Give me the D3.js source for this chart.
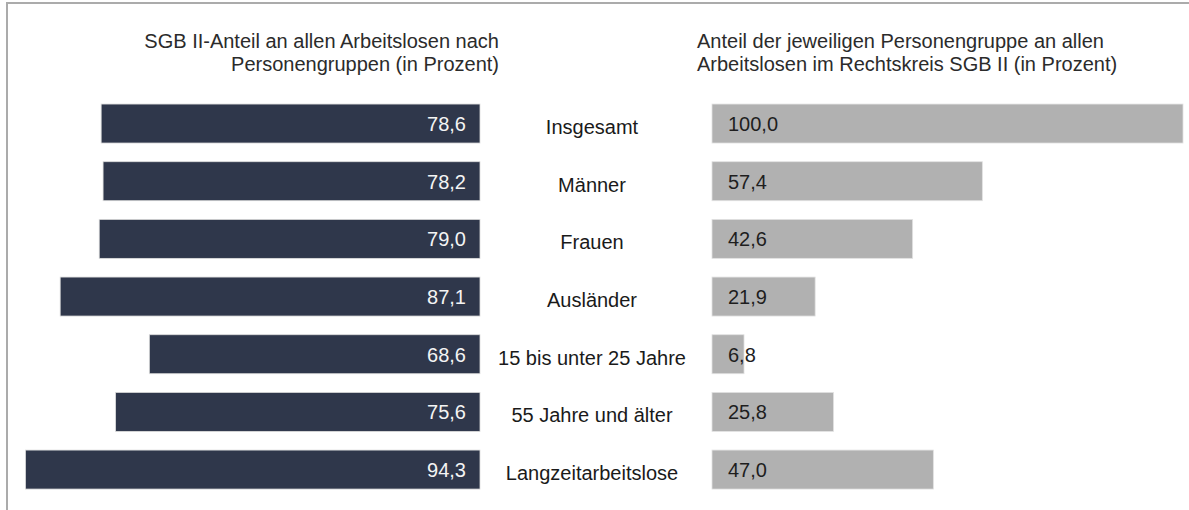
<!DOCTYPE html>
<html>
<head>
<meta charset="utf-8">
<script src="https://cdn.jsdelivr.net/npm/d3@7"></script>
<style>
  body { margin: 0; background: #fff; }
  svg text { font-family: "Liberation Sans", Arial, sans-serif; }
</style>
</head>
<body>
<div id="chart"></div>
<script>
let categories = ["Insgesamt", "Männer", "Frauen", "Ausländer", "15 bis unter 25 Jahre", "55 Jahre und älter", "Langzeitarbeitslose"];
let sgbShare = [78.6, 78.2, 79.0, 87.1, 68.6, 75.6, 94.3];
let groupShare = [100.0, 57.4, 42.6, 21.9, 6.8, 25.8, 47.0];
let leftTitle = ["SGB II-Anteil an allen Arbeitslosen nach", "Personengruppen (in Prozent)"];
let rightTitle = ["Anteil der jeweiligen Personengruppe an allen", "Arbeitslosen im Rechtskreis SGB II (in Prozent)"];

let width = 1189, height = 510;
let fmt = function(v) { return v.toFixed(1).replace('.', ','); };

let svg = d3.select('#chart')
    .append('svg')
    .attr('width', width)
    .attr('height', height);

// frame (only top and left edge visible)
svg.append('path')
    .attr('d', 'M7,' + height + 'V3H' + width)
    .attr('fill', 'none')
    .attr('stroke', '#ababab')
    .attr('stroke-width', 2);

let y = d3.scaleBand()
    .domain(categories)
    .range([94.7, 498.4])
    .paddingInner(0.324)
    .paddingOuter(0.162);

let xLeft = d3.scaleLinear().domain([0, 100]).range([480, -2]);
let xRight = d3.scaleLinear().domain([0, 100]).range([712, 1183]);

// titles
let tl = svg.append('text')
    .attr('text-anchor', 'end')
    .attr('font-size', 20)
    .attr('fill', '#2b2b2b');
leftTitle.forEach(function(t, i) {
    tl.append('tspan').attr('x', 499).attr('y', 48 + i * 23).text(t);
});
let tr = svg.append('text')
    .attr('text-anchor', 'start')
    .attr('font-size', 20)
    .attr('fill', '#2b2b2b');
rightTitle.forEach(function(t, i) {
    tr.append('tspan').attr('x', 697).attr('y', 48 + i * 23).text(t);
});

// left bars
svg.append('g').selectAll('rect')
    .data(sgbShare)
    .enter()
    .append('rect')
    .attr('x', function(d) { return xLeft(d); })
    .attr('y', function(d, i) { return y(categories[i]); })
    .attr('width', function(d) { return xLeft(0) - xLeft(d); })
    .attr('height', y.bandwidth())
    .attr('fill', '#2f374b')
    .attr('stroke', '#dcdcdc')
    .attr('stroke-width', 0.8);

svg.append('g').selectAll('text')
    .data(sgbShare)
    .enter()
    .append('text')
    .attr('x', xLeft(0) - 14)
    .attr('y', function(d, i) { return y(categories[i]) + y.bandwidth() / 2 + 7.5; })
    .attr('text-anchor', 'end')
    .attr('font-size', 20)
    .attr('fill', '#f4f4f4')
    .text(fmt);

// right bars
svg.append('g').selectAll('rect')
    .data(groupShare)
    .enter()
    .append('rect')
    .attr('x', xRight(0))
    .attr('y', function(d, i) { return y(categories[i]); })
    .attr('width', function(d) { return xRight(d) - xRight(0); })
    .attr('height', y.bandwidth())
    .attr('fill', '#b1b1b1')
    .attr('stroke', '#e2e2e2')
    .attr('stroke-width', 0.8);

svg.append('g').selectAll('text')
    .data(groupShare)
    .enter()
    .append('text')
    .attr('x', xRight(0) + 16)
    .attr('y', function(d, i) { return y(categories[i]) + y.bandwidth() / 2 + 7.5; })
    .attr('text-anchor', 'start')
    .attr('font-size', 20)
    .attr('fill', '#1e1e1e')
    .text(fmt);

// category labels in the middle
svg.append('g').selectAll('text')
    .data(categories)
    .enter()
    .append('text')
    .attr('x', 592)
    .attr('y', function(d) { return y(d) + y.bandwidth() / 2 + 10.5; })
    .attr('text-anchor', 'middle')
    .attr('font-size', 20)
    .attr('fill', '#1a1a1a')
    .text(function(d) { return d; });
</script>
</body>
</html>
